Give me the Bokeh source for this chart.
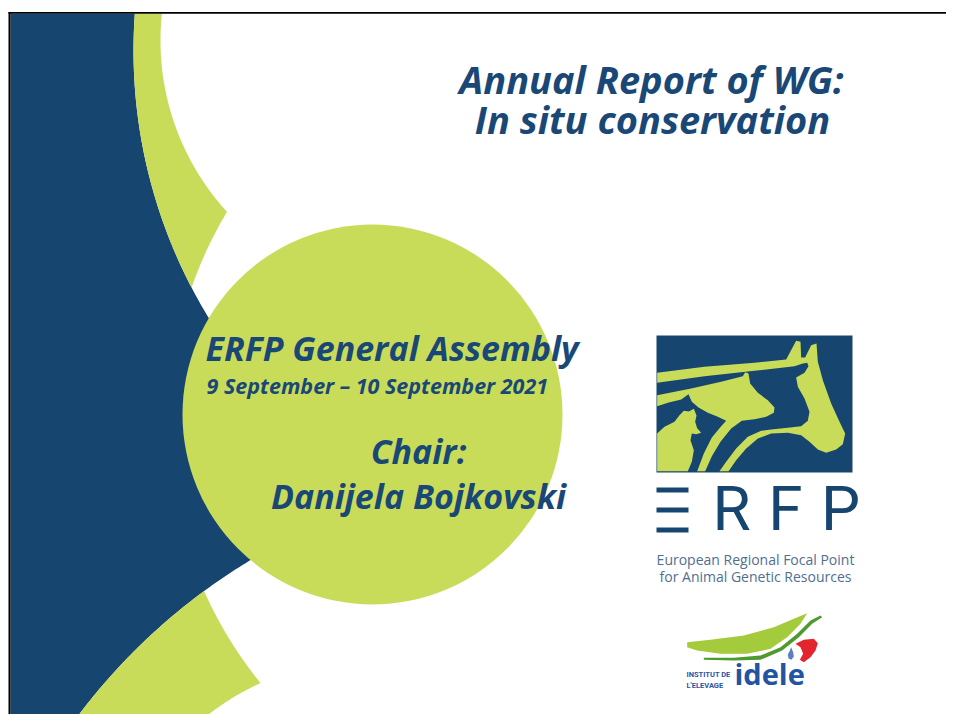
import numpy as np
from bokeh.plotting import figure
from bokeh.models import Range1d
from bokeh.core.properties import value
from bokeh.embed import file_html
from bokeh.resources import INLINE

# ---------------- content ----------------
title_lines = ["Annual Report of WG:", "In situ conservation"]
event_name = ["ERFP General Assembly"]
event_dates = ["9 September \u2013 10 September 2021"]
chair_lines = ["Chair:", "Danijela Bojkovski"]
logo_letters = ["R", "F", "P"]
logo_caption = ["European Regional Focal Point", "for Animal Genetic Resources"]
partner_small = ["INSTITUT DE", "L'ELEVAGE"]
partner_name = ["idele"]

# ---------------- styles / geometry ----------------
BLUE = "#16466F"
GREEN = "#C9DC5A"
TEXT = "#1A4876"
FONT = value("Open Sans")
K = 0.38  # baseline correction (fraction of font size)

W, H = 946, 714
p = figure(width=W, height=H, x_range=Range1d(0, W), y_range=Range1d(H, 0),
           output_backend="svg", toolbar_location=None, min_border=0,
           x_axis_location=None, y_axis_location=None)
p.grid.visible = False
p.outline_line_color = None
p.background_fill_color = "white"
p.border_fill_color = "white"

TOP, BOT, LEFT = 13.3, 722.0, 10.0
# circles (centre, radius) in pixels
cA, rA = (646.0, 50.0), 513.0     # outer edge of upper crescent
cW1, rW1 = (414.0, 40.0), 254.0   # inner edge of upper crescent
cH, rH = (580.0, 423.0), 412.0    # white halo round centre disc
cB, rB = (565.0, 1082.0), 610.0   # outer edge of lower crescent
cW2, rW2 = (365.0, 915.0), 255.0  # inner edge of lower crescent
cC, rC = (372.0, 414.0), 190.0    # central disc


def circ_inter(c1, r1, c2, r2):
    (x1, y1), (x2, y2) = c1, c2
    d = np.hypot(x2 - x1, y2 - y1)
    a = (r1 ** 2 - r2 ** 2 + d ** 2) / (2 * d)
    h = np.sqrt(r1 ** 2 - a ** 2)
    xm, ym = x1 + a * (x2 - x1) / d, y1 + a * (y2 - y1) / d
    pts = [(xm + h * (y2 - y1) / d, ym - h * (x2 - x1) / d),
           (xm - h * (y2 - y1) / d, ym + h * (x2 - x1) / d)]
    return min(pts, key=lambda q: q[0])


def line_inter(c, r, y):
    return (c[0] - np.sqrt(r ** 2 - (y - c[1]) ** 2), y)


def ang(c, pt):
    return np.arctan2(pt[1] - c[1], pt[0] - c[0]) % (2 * np.pi)


def arc(c, r, p0, p1, n=150):
    t = np.linspace(ang(c, p0), ang(c, p1), n)
    return list(c[0] + r * np.cos(t)), list(c[1] + r * np.sin(t))


a_top = line_inter(cA, rA, TOP)
w1_top = line_inter(cW1, rW1, TOP)
ab = circ_inter(cA, rA, cB, rB)
ah = circ_inter(cA, rA, cH, rH)
hw1 = circ_inter(cH, rH, cW1, rW1)
bh = circ_inter(cB, rB, cH, rH)
hw2 = circ_inter(cH, rH, cW2, rW2)
b_bot = line_inter(cB, rB, BOT)
w2_bot = line_inter(cW2, rW2, BOT)

# blue panel
ax_, ay_ = arc(cA, rA, a_top, ab)
bx_, by_ = arc(cB, rB, ab, b_bot)
p.patch([LEFT] + ax_ + bx_ + [LEFT], [TOP] + ay_ + by_ + [BOT],
        fill_color=BLUE, line_color=None)

# upper crescent
x1, y1 = arc(cA, rA, a_top, ah)
x2, y2 = arc(cH, rH, ah, hw1)
x3, y3 = arc(cW1, rW1, hw1, w1_top)
p.patch(x1 + x2 + x3, y1 + y2 + y3, fill_color=GREEN, line_color=None)

# lower crescent
x1, y1 = arc(cH, rH, bh, hw2)
x2, y2 = arc(cW2, rW2, hw2, w2_bot)
x3, y3 = arc(cB, rB, b_bot, bh)
p.patch(x1 + x2 + x3, y1 + y2 + y3, fill_color=GREEN, line_color=None)

# central disc
p.circle(x=[cC[0]], y=[cC[1]], radius=rC, fill_color=GREEN, line_color=None)


def label(xs, baselines, texts, size, **kw):
    ys = [b - K * size for b in baselines]
    p.text(x=xs, y=ys, text=texts, text_font_size=f"{size}px",
           text_baseline="alphabetic", **kw)


# ---------------- texts ----------------
label([651, 652], [93, 133], title_lines, 38, text_font=FONT,
      text_font_style="bold italic", text_color=TEXT, text_align="center")
label([205], [360], event_name, 34, text_font=FONT,
      text_font_style="bold italic", text_color=TEXT, text_align="left")
label([206], [393], event_dates, 21.5, text_font=FONT,
      text_font_style="bold italic", text_color=TEXT, text_align="left")
label([418, 418], [463, 508], chair_lines, 34, text_font=FONT,
      text_font_style="bold italic", text_color=TEXT, text_align="center")

# ---------------- ERFP logo ----------------
LX, LY = 654.0, 333.0  # origin of logo sketch (sketch units are 1/3 px)
p.quad(left=[656], right=[852], top=[335], bottom=[472], fill_color=BLUE, line_color=None)


def logo_patch(pts, color, ox, oy):
    xs = [ox + q[0] / 3 for q in pts]
    ys = [oy + q[1] / 3 for q in pts]
    p.patch(xs, ys, fill_color=color, line_color=None)


cow = [(8, 118), (150, 100), (300, 88), (395, 78), (425, 22), (438, 25), (440, 72), (452, 72),
       (470, 35), (486, 30), (490, 85), (505, 140), (530, 210), (555, 265), (572, 300),
       (565, 332), (545, 348), (515, 358), (490, 348), (465, 325), (440, 305), (400, 298),
       (350, 300), (310, 315), (275, 345), (245, 380), (222, 413), (195, 413), (215, 385),
       (245, 345), (280, 310), (320, 292), (350, 288), (400, 283), (440, 278), (460, 262),
       (465, 235), (450, 195), (430, 160), (425, 132), (450, 118), (462, 98), (458, 88),
       (445, 90), (420, 98), (300, 112), (150, 128), (8, 148)]
pig = [(8, 185), (110, 165), (200, 145), (265, 128), (272, 116), (282, 120), (287, 150),
       (310, 178), (340, 200), (360, 222), (358, 238), (335, 250), (300, 257), (262, 262),
       (230, 285), (198, 325), (172, 368), (152, 413), (128, 413), (148, 360), (172, 312),
       (200, 278), (215, 262), (190, 250), (160, 238), (132, 222), (112, 205), (102, 182),
       (80, 198), (40, 208), (8, 218)]
hen = [(8, 413), (8, 300), (30, 280), (60, 265), (75, 245), (88, 232), (103, 234), (118, 226),
       (126, 246), (122, 265), (128, 284), (140, 298), (125, 302), (112, 300), (108, 320),
       (118, 350), (112, 385), (100, 413)]
for shape in (cow, pig, hen):
    logo_patch(shape, GREEN, LX, LY)

# stylised E (three bars) + letters
p.quad(left=[656, 656, 656], right=[688, 688, 688], top=[487, 507, 527],
       bottom=[492, 512, 532], fill_color=BLUE, line_color=None)
label([731, 785, 840], [532, 532, 532], logo_letters, 62, text_font=value("Roboto"),
      text_color=BLUE, text_align="center")
label([755, 755], [564, 581], logo_caption, 14, text_font=FONT,
      text_color="#4F6F90", text_align="center")

# ---------------- idele logo ----------------
IX, IY = 660.0, 600.0
leaf = [(80, 125), (150, 118), (250, 105), (340, 80), (400, 55), (440, 38), (420, 70),
        (380, 110), (330, 145), (260, 160), (180, 160), (110, 150), (80, 140)]
stem = [(130, 172), (220, 172), (300, 165), (360, 140), (410, 100), (450, 60), (480, 45),
        (485, 50), (455, 70), (415, 110), (365, 150), (300, 178), (220, 180), (130, 178)]
flag = [(405, 130), (430, 118), (460, 115), (472, 128), (465, 150), (450, 170), (430, 185),
        (418, 178), (428, 160), (420, 140)]
drop = [(392, 140), (398, 155), (400, 168), (393, 178), (384, 174), (382, 162), (387, 152)]
logo_patch(leaf, "#A3CB3C", IX, IY)
logo_patch(stem, "#4E9A2E", IX, IY)
logo_patch(flag, "#E3262D", IX, IY)
logo_patch(drop, "#5B7FC0", IX, IY)
label([686, 686], [677, 688], partner_small, 7.5, text_font=value("Roboto"),
      text_font_style="bold", text_color="#2756A5", text_align="left")
label([734], [684], partner_name, 29, text_font=FONT, text_font_style="bold",
      text_color="#2354A4", text_align="left")

# ---------------- slide frame ----------------
p.quad(left=[8, 8], right=[954, 10], top=[11.5, 11.5], bottom=[13.3, 722],
       fill_color="black", line_color=None)

open("out.html", "w").write(file_html(p, INLINE))
